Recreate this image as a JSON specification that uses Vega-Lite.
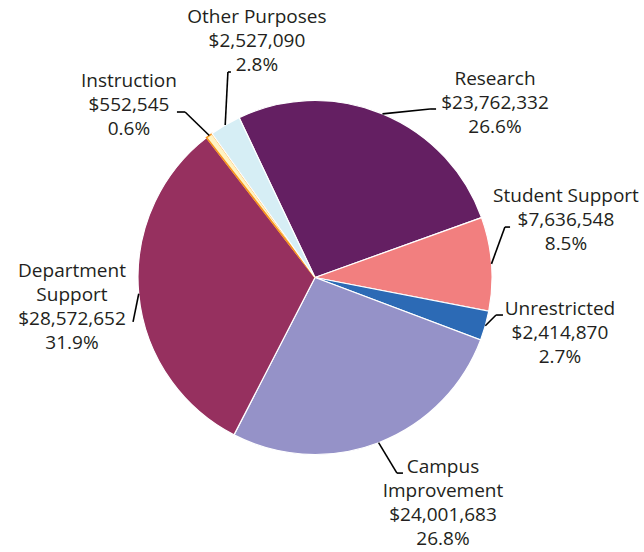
{
  "$schema": "https://vega.github.io/schema/vega-lite/v6.json",
  "width": 644,
  "height": 552,
  "autosize": {"type": "fit", "contains": "padding"},
  "padding": 0,
  "background": "white",
  "config": {"view": {"stroke": null}},
  "data": {
    "values": [
      {"category": "Research", "amount": 23762332, "pct": 26.6, "ord": 1},
      {"category": "Student Support", "amount": 7636548, "pct": 8.5, "ord": 2},
      {"category": "Unrestricted", "amount": 2414870, "pct": 2.7, "ord": 3},
      {"category": "Campus Improvement", "amount": 24001683, "pct": 26.8, "ord": 4},
      {"category": "Department Support", "amount": 28572652, "pct": 31.9, "ord": 5},
      {"category": "Instruction", "amount": 552545, "pct": 0.6, "ord": 6},
      {"category": "Other Purposes", "amount": 2527090, "pct": 2.8, "ord": 7}
    ]
  },
  "layer": [
    {
      "mark": {"type": "arc", "radius": 177},
      "encoding": {
        "theta": {"field": "amount", "type": "quantitative", "stack": true, "scale": {"range": [-0.4433, 5.8399]}},
        "order": {"field": "ord", "type": "quantitative"},
        "color": {
          "field": "category",
          "type": "nominal",
          "legend": null,
          "scale": {
            "domain": ["Research", "Student Support", "Unrestricted", "Campus Improvement", "Department Support", "Instruction", "Other Purposes"],
            "range": ["#641F62", "#F27F7F", "#2C6AB5", "#9592C8", "#96305F", "#FFF3C4", "#D6EEF5"]
          }
        },
        "stroke": {"condition": {"test": "datum.category === 'Instruction'", "value": "#F7941D"}, "value": "white"},
        "strokeWidth": {"condition": {"test": "datum.category === 'Instruction'", "value": 1.6}, "value": 1.2},
        "x": {"datum": 0, "type": "quantitative", "scale": {"domain": [-1.7797, 1.8588], "nice": false, "zero": false}, "axis": null},
        "y": {"datum": 0, "type": "quantitative", "scale": {"domain": [-1.5678, 1.5508], "nice": false, "zero": false, "reverse": true}, "axis": null}
      }
    },
    {
      "transform": [
        {"joinaggregate": [{"op": "sum", "field": "amount", "as": "total"}]},
        {"window": [{"op": "sum", "field": "amount", "as": "cum"}], "sort": [{"field": "ord"}], "frame": [null, 0]},
        {"calculate": "-0.4433 + 2*PI*(datum.cum - datum.amount/2)/datum.total", "as": "mid"},
        {"calculate": "1.0*sin(datum.mid)", "as": "sx"},
        {"calculate": "-1.0*cos(datum.mid)", "as": "sy"},
        {"calculate": "[[1.017,-1.088,0.650,-0.952,0.684],[1.418,-0.427,1.073,-0.285,1.102],[1.384,0.212,1.023,0.212,1.062],[0.723,1.105,0.463,1.105,0.497],[-1.373,-0.003,-1.028,0.251,-1.028],[-1.051,-1.076,-0.734,-0.935,-0.780],[-0.328,-1.438,-0.492,-1.161,-0.475]][datum.ord-1]", "as": "lay"},
        {"calculate": "datum.lay[2]", "as": "ex"},
        {"calculate": "datum.lay[3]", "as": "ey"}
      ],
      "mark": {"type": "rule", "color": "#000000", "strokeWidth": 1.6},
      "encoding": {
        "x": {"field": "sx", "type": "quantitative", "scale": {"domain": [-1.7797, 1.8588], "nice": false, "zero": false}, "axis": null},
        "y": {"field": "sy", "type": "quantitative", "scale": {"domain": [-1.5678, 1.5508], "nice": false, "zero": false, "reverse": true}, "axis": null},
        "x2": {"field": "ex"},
        "y2": {"field": "ey"}
      }
    },
    {
      "transform": [
        {"calculate": "[[1.017,-1.088,0.650,-0.952,0.684],[1.418,-0.427,1.073,-0.285,1.102],[1.384,0.212,1.023,0.212,1.062],[0.723,1.105,0.463,1.105,0.497],[-1.373,-0.003,-1.028,0.251,-1.028],[-1.051,-1.076,-0.734,-0.935,-0.780],[-0.328,-1.438,-0.492,-1.161,-0.475]][datum.ord-1]", "as": "lay"},
        {"calculate": "datum.lay[2]", "as": "ex"},
        {"calculate": "datum.lay[3]", "as": "ey"},
        {"calculate": "datum.lay[4]", "as": "hx"}
      ],
      "mark": {"type": "rule", "color": "#000000", "strokeWidth": 1.6},
      "encoding": {
        "x": {"field": "ex", "type": "quantitative", "scale": {"domain": [-1.7797, 1.8588], "nice": false, "zero": false}, "axis": null},
        "y": {"field": "ey", "type": "quantitative", "scale": {"domain": [-1.5678, 1.5508], "nice": false, "zero": false, "reverse": true}, "axis": null},
        "x2": {"field": "hx"}
      }
    },
    {
      "transform": [
        {"calculate": "[[1.017,-1.088,0.650,-0.952,0.684],[1.418,-0.427,1.073,-0.285,1.102],[1.384,0.212,1.023,0.212,1.062],[0.723,1.105,0.463,1.105,0.497],[-1.373,-0.003,-1.028,0.251,-1.028],[-1.051,-1.076,-0.734,-0.935,-0.780],[-0.328,-1.438,-0.492,-1.161,-0.475]][datum.ord-1]", "as": "lay"},
        {"calculate": "datum.lay[0]", "as": "lx"},
        {"calculate": "datum.lay[1]", "as": "ly"},
        {"calculate": "(datum.category === 'Department Support' ? 'Department\\nSupport' : datum.category === 'Campus Improvement' ? 'Campus\\nImprovement' : datum.category) + '\\n$' + format(datum.amount, ',') + '\\n' + format(datum.pct, '.1f') + '%'", "as": "label"}
      ],
      "mark": {"type": "text", "align": "center", "baseline": "alphabetic", "font": "Open Sans", "fontSize": 19, "lineHeight": 24, "lineBreak": "\n", "color": "#231F20"},
      "encoding": {
        "x": {"field": "lx", "type": "quantitative", "scale": {"domain": [-1.7797, 1.8588], "nice": false, "zero": false}, "axis": null},
        "y": {"field": "ly", "type": "quantitative", "scale": {"domain": [-1.5678, 1.5508], "nice": false, "zero": false, "reverse": true}, "axis": null},
        "text": {"field": "label"}
      }
    }
  ]
}
